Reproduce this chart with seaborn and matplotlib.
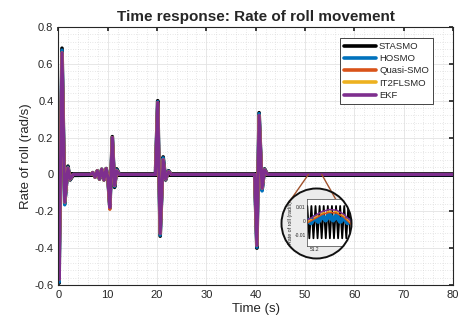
import matplotlib
matplotlib.use("Agg")
import matplotlib.pyplot as plt
import matplotlib.patches as mpatches
from matplotlib.ticker import MultipleLocator
import seaborn as sns

sns.set_theme(style="white")
plt.rcParams["font.family"] = ["Liberation Sans", "DejaVu Sans"]

# ── Data ──────────────────────────────────────────────────────────────────────
t_main = [0.0, 0.15, 0.75, 1.3, 1.95, 2.4, 3.0, 6.5, 7.0, 7.45, 7.9, 8.35, 8.8,
          9.25, 9.7, 10.05, 10.45, 10.95, 11.4, 11.85, 12.4, 19.7, 20.15, 20.65,
          21.25, 21.75, 22.35, 22.9, 39.8, 40.25, 40.7, 41.3, 41.8, 42.4, 80.0]

stasmo = [0.0, -0.59, 0.685, -0.16, 0.045, -0.03, -0.005, -0.004, 0.01, -0.015,
          0.02, -0.025, 0.028, -0.03, 0.032, -0.02, -0.18, 0.205, -0.07, 0.03,
          0.0, 0.0, 0.40, -0.335, 0.095, -0.03, 0.02, 0.0, 0.0, -0.40, 0.335,
          -0.085, 0.03, 0.0, 0.0]
hosmo = [0.0, -0.585, 0.675, -0.165, 0.04, -0.028, 0.0, 0.0, 0.01, -0.015,
         0.02, -0.025, 0.028, -0.03, 0.032, -0.02, -0.185, 0.20, -0.065, 0.025,
         0.0, 0.0, 0.395, -0.33, 0.09, -0.028, 0.018, 0.0, 0.0, -0.395, 0.33,
         -0.09, 0.028, 0.0, 0.0]
quasi = [0.0, -0.57, 0.66, -0.15, 0.035, -0.025, 0.0, 0.0, 0.01, -0.015,
         0.02, -0.025, 0.028, -0.03, 0.032, -0.02, -0.19, 0.20, -0.06, 0.02,
         0.0, 0.0, 0.39, -0.32, 0.08, -0.025, 0.015, 0.0, 0.0, -0.385, 0.32,
         -0.075, 0.025, 0.0, 0.0]
it2flsmo = [0.0, -0.57, 0.66, -0.15, 0.035, -0.025, 0.0, 0.0, 0.01, -0.015,
            0.02, -0.025, 0.028, -0.03, 0.032, -0.02, -0.18, 0.20, -0.06, 0.02,
            0.0, 0.0, 0.39, -0.32, 0.08, -0.025, 0.015, 0.0, 0.0, -0.385, 0.32,
            -0.075, 0.025, 0.0, 0.0]
ekf = [0.0, -0.57, 0.66, -0.15, 0.035, -0.025, 0.0, 0.0, 0.01, -0.015,
       0.02, -0.025, 0.028, -0.03, 0.032, -0.02, -0.18, 0.20, -0.06, 0.02,
       0.0, 0.0, 0.39, -0.32, 0.08, -0.025, 0.015, 0.0, 0.0, -0.385, 0.32,
       -0.075, 0.025, 0.0, 0.0]

# STASMO chattering band after the first transient
chatter_t = [2.5, 80.0]
chatter_amp = 0.013

labels = ["STASMO", "HOSMO", "Quasi-SMO", "IT2FLSMO", "EKF"]
colors = ["#000000", "#0072BD", "#D95319", "#EDB120", "#7E2F8E"]
widths = [2.6, 2.4, 2.2, 2.2, 2.3]

# zoomed window (magnifier)
zoom_anchor_t = [50.7, 53.4]
zz_t = [51.150, 51.164, 51.178, 51.192, 51.206, 51.220, 51.234, 51.248, 51.262,
        51.276, 51.290, 51.304, 51.318, 51.332, 51.346, 51.360, 51.374, 51.388,
        51.402, 51.416, 51.430, 51.444]
zz_stasmo = [0.011, -0.012, 0.011, -0.012, 0.011, -0.012, 0.011, -0.012, 0.011,
             -0.012, 0.011, -0.012, 0.011, -0.012, 0.011, -0.012, 0.011, -0.012,
             0.011, -0.012, 0.011, -0.012]
zb_t = [51.150, 51.175, 51.200, 51.225, 51.250, 51.275, 51.300, 51.325, 51.350,
        51.375, 51.400, 51.425, 51.450]
zz_hosmo = [0.001, -0.001, 0.003, 0.0, 0.004, 0.001, 0.005, 0.001, 0.004, 0.0,
            0.003, -0.001, 0.001]
za_t = [51.150, 51.200, 51.250, 51.300, 51.350, 51.400, 51.450]
zz_quasi = [-0.001, 0.002, 0.005, 0.0065, 0.006, 0.003, -0.002]
zz_it2 = [0.0, 0.003, 0.006, 0.0075, 0.007, 0.004, -0.001]
zz_ekf = [0.001, 0.004, 0.007, 0.0085, 0.008, 0.005, 0.0]

series = [stasmo, hosmo, quasi, it2flsmo, ekf]

# ── Figure ────────────────────────────────────────────────────────────────────
W, H = 464, 324
fig = plt.figure(figsize=(W / 100, H / 100), dpi=100)
ax = fig.add_axes([58.3 / W, 1 - 285 / H, (453 - 58.3) / W, (285 - 27) / H])
ax.set_facecolor("white")

ax.fill_between(chatter_t, -chatter_amp, chatter_amp, color="#000000",
                lw=0, zorder=1.5)
for vals, lab, col, lw in zip(series, labels, colors, widths):
    sns.lineplot(x=t_main, y=vals, ax=ax, color=col, lw=lw, label=lab,
                 sort=False, estimator=None, legend=False)

ax.set_xlim(0, 80)
ax.set_ylim(-0.6, 0.8)
ax.xaxis.set_major_locator(MultipleLocator(10))
ax.xaxis.set_minor_locator(MultipleLocator(2))
ax.yaxis.set_major_locator(MultipleLocator(0.2))
ax.yaxis.set_minor_locator(MultipleLocator(0.04))
ax.set_yticks([-0.6, -0.4, -0.2, 0, 0.2, 0.4, 0.6, 0.8],
              ["-0.6", "-0.4", "-0.2", "0", "0.2", "0.4", "0.6", "0.8"])
ax.grid(which="major", color="#e3e3e3", lw=0.6)
ax.grid(which="minor", color="#d0d0d0", lw=0.5, ls=(0, (1, 2.5)))
ax.set_axisbelow(True)
ax.tick_params(which="both", direction="in", top=True, right=True,
               labelsize=8, colors="#262626", length=3)
ax.tick_params(which="minor", length=0)
for sp in ax.spines.values():
    sp.set_color("#262626")
    sp.set_linewidth(0.8)

ax.set_xlabel("Time (s)", fontsize=9.5, color="#262626", labelpad=2)
ax.set_ylabel("Rate of roll (rad/s)", fontsize=9.5, color="#262626", labelpad=2)
ax.set_title("Time response: Rate of roll movement", fontsize=11,
             fontweight="bold", pad=4)

leg = ax.legend(loc="upper right", bbox_to_anchor=(0.9486, 0.957),
                borderaxespad=0, fontsize=6.8, handlelength=3.4,
                fancybox=False, framealpha=1, labelspacing=0.35,
                handletextpad=0.3, borderpad=0.4)
leg.get_frame().set_edgecolor("#262626")
leg.get_frame().set_linewidth(0.6)
for h in leg.get_lines():
    h.set_linewidth(2.6)

# ── Magnifier ─────────────────────────────────────────────────────────────────
cx, cy, r = 316.5, 223.5, 35
circ = mpatches.Ellipse((cx / W, 1 - cy / H), 2 * r / W, 2 * r / H,
                        transform=fig.transFigure, facecolor="#ececec",
                        edgecolor="none", zorder=5)
fig.add_artist(circ)

# connector lines from the main trace to the circle
for t0, (ex, ey) in zip(zoom_anchor_t, [(288.5, 203.0), (337.0, 201.5)]):
    con = mpatches.ConnectionPatch(xyA=(t0, 0.0), coordsA=ax.transData,
                                   xyB=(ex / W, 1 - ey / H),
                                   coordsB=fig.transFigure,
                                   color="#A0522D", lw=1.0, zorder=6)
    fig.add_artist(con)

axin = fig.add_axes([307 / W, 1 - 246 / H, 44 / W, 47 / H], zorder=6)
axin.set_facecolor("white")
sns.lineplot(x=zz_t, y=zz_stasmo, ax=axin, color="#000000", lw=1.3,
             sort=False, estimator=None)
sns.lineplot(x=zb_t, y=zz_hosmo, ax=axin, color="#0072BD", lw=3.5,
             sort=False, estimator=None)
sns.lineplot(x=za_t, y=zz_quasi, ax=axin, color="#D95319", lw=1.2,
             sort=False, estimator=None)
sns.lineplot(x=za_t, y=zz_it2, ax=axin, color="#EDB120", lw=1.0, ls="--",
             sort=False, estimator=None)
sns.lineplot(x=za_t, y=zz_ekf, ax=axin, color="#7E2F8E", lw=1.1,
             sort=False, estimator=None)
axin.set_xlim(51.148, 51.448)
axin.set_ylim(-0.0175, 0.016)
axin.set_xticks([51.2], ["51.2"])
axin.set_yticks([-0.01, 0, 0.01], ["-0.01", "0", "0.01"])
axin.tick_params(labelsize=3.5, length=1.5, direction="in", pad=1,
                 colors="#262626")
axin.set_ylabel("Rate of roll (rad/s)", fontsize=3.8, labelpad=1)
axin.set_xlabel("")
axin.grid(False)
for sp in axin.spines.values():
    sp.set_color("#404040")
    sp.set_linewidth(0.5)

clip = mpatches.Ellipse((cx / W, 1 - cy / H), 2 * r / W, 2 * r / H,
                        transform=fig.transFigure)
axin.patch.set_clip_path(clip)
for ln in axin.lines:
    ln.set_clip_path(clip)
for sp in axin.spines.values():
    sp.set_clip_path(clip)
axin.yaxis.label.set_clip_path(clip)

ring = mpatches.Ellipse((cx / W, 1 - cy / H), 2 * r / W, 2 * r / H,
                        transform=fig.transFigure, facecolor="none",
                        edgecolor="#111111", lw=1.4, zorder=7)
fig.add_artist(ring)

fig.savefig("out.png", dpi=100)
plt.close()
